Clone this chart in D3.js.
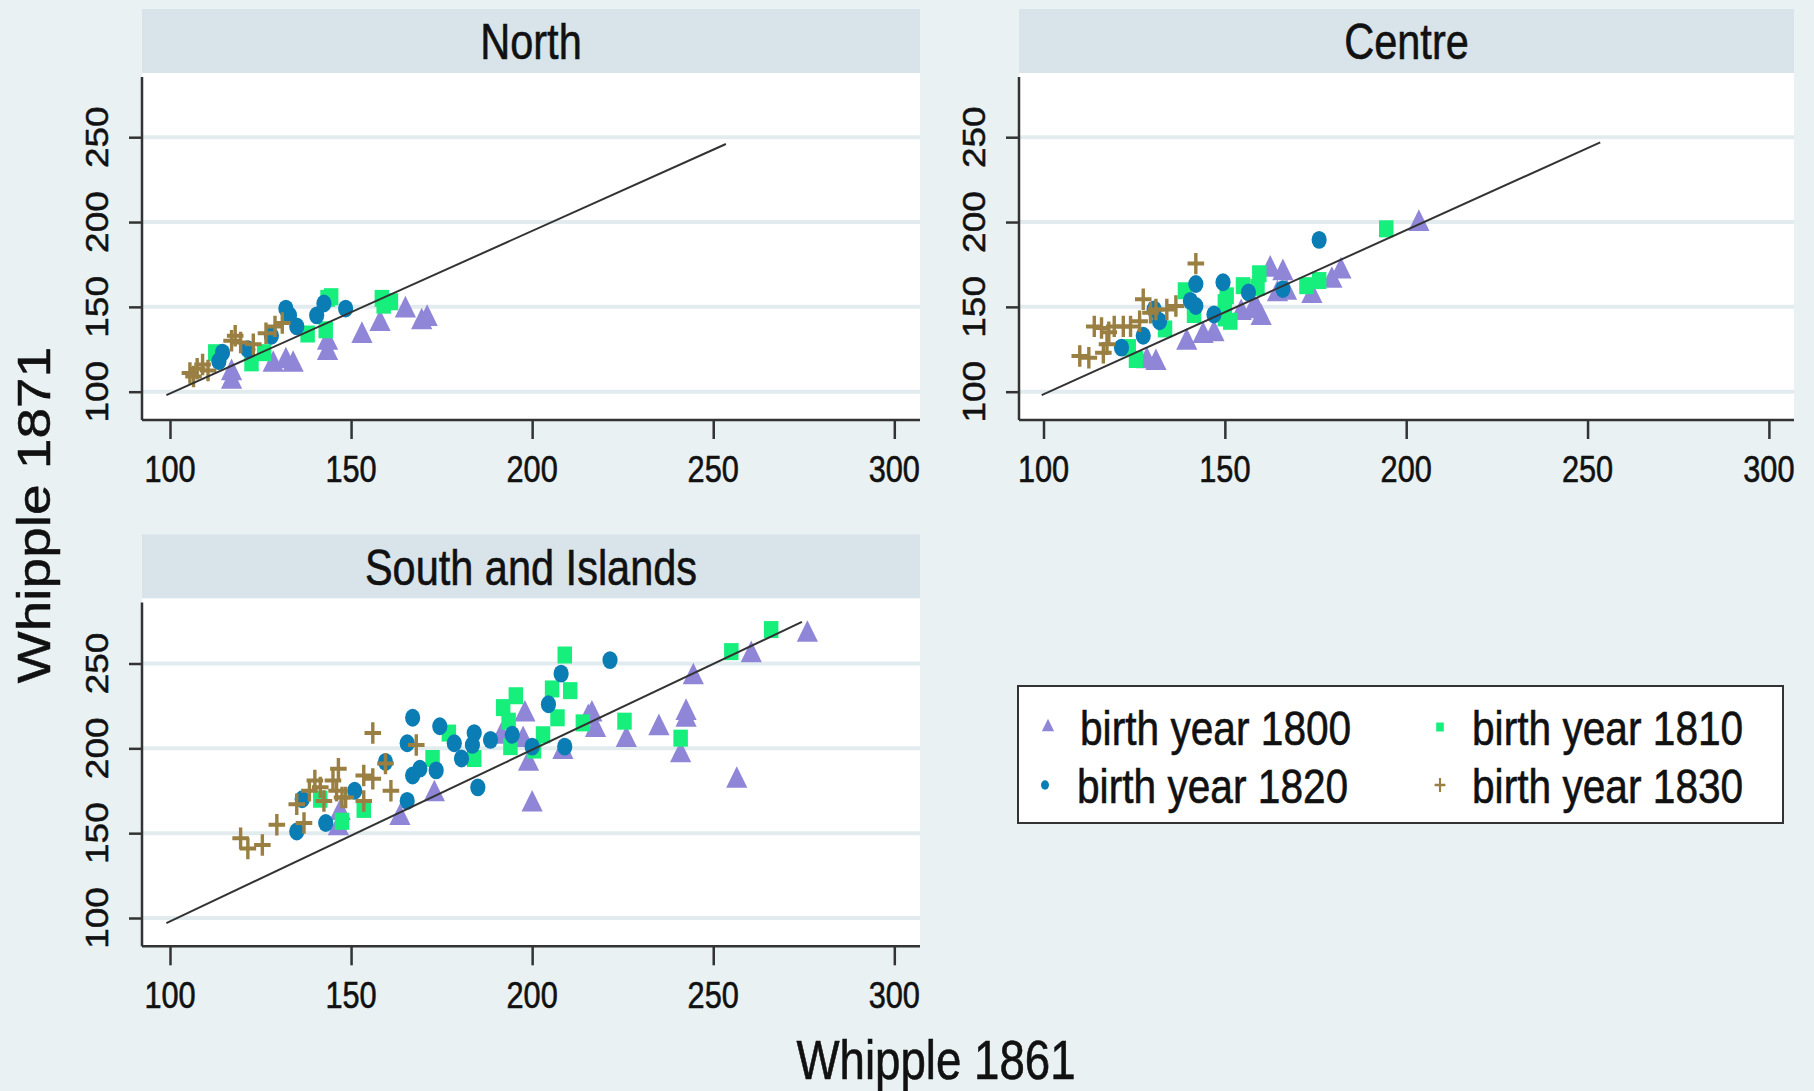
<!DOCTYPE html>
<html>
<head>
<meta charset="utf-8">
<script src="https://cdn.jsdelivr.net/npm/d3@7"></script>
<style>
  body { margin: 0; background: #e9f1f3; }
  svg { display: block; font-family: "Liberation Sans", Arial, sans-serif; }
</style>
</head>
<body>
<div id="container"></div>
<script>
// ticks shared by every panel
const xTicks = [100, 150, 200, 250, 300];
const yTicks = [100, 150, 200, 250];

// [Whipple 1861, Whipple 1871] per birth cohort
const north1800 = [[117,106],[117,111],[128.5,116],[132,118],[134,116],[143.5,123],[143.5,129],[153,133],[158,140],[165,148],[169.5,141],[171,143]];
const north1810 = [[112.5,123],[122.5,117],[126,123],[138,134],[143,136.5],[143.5,155],[144.5,156],[158.5,155],[159,151],[161,153]];
const north1820 = [[113.5,118],[114.5,123],[121.5,125],[128,133],[132,149],[133,145],[135,138.5],[140.5,145],[142.5,152],[148.5,149]];
const north1830 = [[105.5,111],[106.5,109],[107.5,113.5],[109,116],[110.5,112.5],[117,130],[118,133],[119.5,129],[123,128],[126.5,134.5],[129,138.5],[131,140.5]];

const centre1800 = [[128.5,118],[131,117],[139.5,129],[144,133],[147,134],[154.5,146.5],[158,149.5],[159,147.5],[160,143.5],[162.5,172],[164.5,157.5],[166,170],[167,158.5],[174,156.5],[179.5,165.5],[182,171],[203.5,199]];
const centre1810 = [[123.5,126],[125.5,119],[133.5,137],[139,159.5],[141.5,145.5],[150,152.5],[150,143.5],[150.5,156.5],[151.5,141.5],[155,162.5],[159,161.5],[159.5,169.5],[172.5,162.5],[176,165.5],[194.5,196]];
const centre1820 = [[121.5,126],[127.5,133],[130.5,148.5],[132,141.5],[140.5,153.5],[142,150.5],[142,163.5],[147,145.5],[149.5,164.5],[156.5,158.5],[166,160.5],[176,189.5]];
const centre1830 = [[110,121],[112.5,120],[114,138.5],[116,137.5],[116.5,123],[117.5,128],[118,135],[119.5,138.5],[122,138.5],[124,138.5],[126.5,141.5],[127.5,154.5],[129.5,146.5],[131,148.5],[134,148.5],[136.5,150.5],[142,175.5]];

const south1800 = [[146.5,153],[147,162],[163.5,159],[173,173],[191.5,207],[197.5,205],[198,220],[199,191],[200,167],[208.5,198],[215.5,218],[216.5,220],[217.5,211],[226,205],[235,212],[241,196],[242.5,217],[242.5,221],[244.5,242],[256.5,181],[260.5,255],[276,267]];
const south1810 = [[141.5,170],[147.5,157],[153.5,164],[172.5,194],[177,209],[184,194],[192,224],[193.5,216],[194,201],[195.5,231],[200.5,199],[203,208],[205.5,235],[207,218],[209,255],[210.5,234],[214,215],[225.5,216],[241,206],[255,257],[266,270]];
const south1820 = [[135,151],[136.5,170],[143,156],[151,175],[159.5,192],[165.5,169],[165.5,203],[167,184],[167,218],[169,188],[173.5,187],[174.5,213],[178.5,203],[180.5,194],[184,209],[183.5,202],[185,177],[188.5,205],[194.5,208],[200,201],[204.5,226],[208,244],[209,201],[221.5,252]];
const south1830 = [[119.5,147],[121.5,141],[125.5,143],[129.5,155],[135,167],[137,156],[138.5,175],[140,181],[141.5,177],[142.5,169],[145,181],[146,175],[146.5,188],[147.5,171],[148.5,171],[153.5,184],[153.5,169],[156,182],[156,209],[159.5,191],[161,175],[168,202]];

// reference line end points per panel
const northLine = [[99,98],[253.5,246]];
const centreLine = [[99.5,98],[253.5,247]];
const southLine = [[99,97],[274.5,274.5]];

const cohorts = ["birth year 1800", "birth year 1810", "birth year 1820", "birth year 1830"];
const cohortColors = ["#8f86d8", "#17ef7c", "#0b7db5", "#9a7f42"];

const width = 1814;
const height = 1091;
const squeeze = 0.83; // the picture is narrower than tall

const symbolPlus = {
  draw(ctx, size) {
    const r = Math.sqrt(size) / 2;
    ctx.moveTo(-r, 0); ctx.lineTo(r, 0);
    ctx.moveTo(0, -r * 1.1); ctx.lineTo(0, r * 1.1);
  }
};
const shapes = [d3.symbolTriangle, d3.symbolSquare, d3.symbolCircle, symbolPlus];
const sizes = [270, 290, 250, 380];

const panels = [
  { title: "North", series: [north1800, north1810, north1820, north1830], line: northLine,
    left: 142, right: 920, top: 9, axisY: 420, xRange: [170, 894.3] },
  { title: "Centre", series: [centre1800, centre1810, centre1820, centre1830], line: centreLine,
    left: 1019, right: 1794, top: 9, axisY: 420, xRange: [1043.5, 1768.9] },
  { title: "South and Islands", series: [south1800, south1810, south1820, south1830], line: southLine,
    left: 142, right: 920, top: 534.5, axisY: 946.3, xRange: [170, 894.3] }
];

const svg = d3.create("svg")
  .attr("width", width)
  .attr("height", height);

svg.append("rect")
  .attr("width", width)
  .attr("height", height)
  .attr("fill", "#e9f1f3");

const addText = (g, x, y, str, size, rotate = 0) =>
  g.append("text")
    .attr("transform", `translate(${x},${y}) scale(${squeeze},1) rotate(${rotate})`)
    .attr("text-anchor", "middle")
    .attr("font-size", size)
    .attr("fill", "#111")
    .attr("stroke", "#111")
    .attr("stroke-width", 0.6)
    .text(str);

const marker = (sel, i, color, size) => {
  sel.attr("d", d3.symbol(shapes[i], size))
    .attr("fill", i === 3 ? "none" : color)
    .attr("stroke", i === 3 ? color : "none")
    .attr("stroke-width", i === 3 ? 4 : 0);
};

panels.forEach(p => {
  const headH = 64;
  const x = d3.scaleLinear().domain([100, 300]).range(p.xRange);
  const y = d3.scaleLinear().domain([100, 250]).range([p.axisY - 28.3, p.axisY - 282.8]);
  const g = svg.append("g");

  // header strip + title
  g.append("rect")
    .attr("x", p.left).attr("y", p.top)
    .attr("width", p.right - p.left).attr("height", headH)
    .attr("fill", "#d8e4ea");
  addText(g, (p.left + p.right) / 2, p.top + headH / 2 + 18, p.title, 50);

  // plot region
  g.append("rect")
    .attr("x", p.left).attr("y", p.top + headH)
    .attr("width", p.right - p.left).attr("height", p.axisY - p.top - headH)
    .attr("fill", "#fff");

  g.append("g")
    .selectAll("line")
    .data(yTicks)
    .join("line")
    .attr("x1", p.left).attr("x2", p.right)
    .attr("y1", d => y(d)).attr("y2", d => y(d))
    .attr("stroke", "#e2ecef")
    .attr("stroke-width", 4);

  // axes
  const yAxis = g.append("g")
    .attr("transform", `translate(${p.left},0)`)
    .call(d3.axisLeft(y).tickValues(yTicks).tickSize(13).tickFormat(""));
  yAxis.select(".domain").attr("d", `M0,${p.top + headH + 4}V${p.axisY}`);
  const xAxis = g.append("g")
    .attr("transform", `translate(0,${p.axisY})`)
    .call(d3.axisBottom(x).tickValues(xTicks).tickSize(19).tickFormat(""));
  xAxis.select(".domain").attr("d", `M${p.left},0H${p.right}`);
  g.selectAll(".domain, .tick line").attr("stroke", "#333").attr("stroke-width", 2.5);

  xTicks.forEach(t => addText(g, x(t), p.axisY + 62, t, 37));
  yTicks.forEach(t => addText(g, p.left - 34, y(t), t, 37, -90));

  // points
  p.series.forEach((pts, i) => {
    g.append("g")
      .selectAll("path")
      .data(pts)
      .join("path")
      .attr("transform", d => `translate(${x(d[0])},${y(d[1])}) scale(0.85,1)`)
      .call(sel => marker(sel, i, cohortColors[i], sizes[i]));
  });

  g.append("path")
    .datum(p.line)
    .attr("d", d3.line(d => x(d[0]), d => y(d[1])))
    .attr("stroke", "#333")
    .attr("stroke-width", 2)
    .attr("fill", "none");
});

// axis titles
addText(svg, 936, 1079, "Whipple 1861", 55);
addText(svg, 50, 515, "Whipple 1871", 55, -90);

// legend
const legend = svg.append("g");
legend.append("rect")
  .attr("x", 1018).attr("y", 686)
  .attr("width", 765).attr("height", 137)
  .attr("fill", "#fff")
  .attr("stroke", "#333")
  .attr("stroke-width", 2);
const legendPos = [[1048, 727], [1440, 727], [1045, 785], [1440, 785]];
const legendSizes = [90, 80, 70, 160];
cohorts.forEach((c, i) => {
  const [lx, ly] = legendPos[i];
  legend.append("path")
    .attr("transform", `translate(${lx},${ly}) scale(0.85,1)`)
    .call(sel => marker(sel, i, cohortColors[i], legendSizes[i]))
    .attr("stroke-width", i === 3 ? 2.5 : 0);
  legend.append("text")
    .attr("transform", `translate(${lx + 32},${ly + 18}) scale(${squeeze},1)`)
    .attr("font-size", 49)
    .attr("fill", "#111")
    .attr("stroke", "#111")
    .attr("stroke-width", 0.6)
    .text(c);
});

d3.select("#container").append(() => svg.node());
</script>
</body>
</html>
